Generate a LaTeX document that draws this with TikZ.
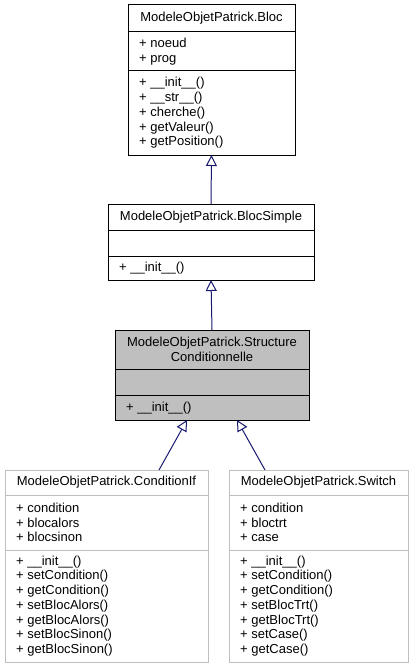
\documentclass[tikz,border=0pt]{standalone}
\usepackage{fontspec}
\setmainfont{Liberation Sans}
\usetikzlibrary{arrows.meta,calc}
\definecolor{edgeblue}{RGB}{25,25,112}
\definecolor{boxgrey}{RGB}{191,191,191}
\definecolor{lightedge}{RGB}{191,191,191}
\begin{document}
\begin{tikzpicture}[x=1pt,y=-1pt,
  classbox/.style={draw=black, line width=1pt, inner sep=0pt, outer sep=0pt, anchor=north west},
  lightbox/.style={classbox, draw=lightedge},
  txt/.style={inner sep=0pt, anchor=west, align=left, font=\fontsize{13}{14.7}\selectfont},
  ttl/.style={inner sep=0pt, align=center, font=\fontsize{13}{14.7}\selectfont},
  sep/.style={line width=1pt},
  inh/.style={draw=edgeblue, line width=1pt, -{Triangle[length=11pt, width=11pt, fill=white]}}
]
\useasboundingbox (0,0) rectangle (413,669);
\fill[white] (0,0) rectangle (413,669);

% Bloc
\node[classbox, minimum width=167pt, minimum height=150pt] (bloc) at (128,5) {};
\draw[sep] ($(bloc.north west)+(0,27)$) -- ($(bloc.north east)+(0,27)$);
\draw[sep] ($(bloc.north west)+(0,66)$) -- ($(bloc.north east)+(0,66)$);
\node[ttl] (blocT) at (211.5,18.5) {ModeleObjetPatrick.Bloc};
\node[txt] (blocA) at (139,51.5) {+ noeud\\+ prog};
\node[txt] (blocM) at (139,113) {+ \_\_init\_\_()\\+ \_\_str\_\_()\\+ cherche()\\+ getValeur()\\+ getPosition()};

% BlocSimple
\node[classbox, minimum width=206pt, minimum height=76pt] (bs) at (108,204) {};
\draw[sep] ($(bs.north west)+(0,26)$) -- ($(bs.north east)+(0,26)$);
\draw[sep] ($(bs.north west)+(0,52)$) -- ($(bs.north east)+(0,52)$);
\node[ttl] (bsT) at (211,217) {ModeleObjetPatrick.BlocSimple};
\node[txt] (bsM) at (119,268) {+ \_\_init\_\_()};

% StructureConditionnelle
\node[classbox, fill=boxgrey, minimum width=194pt, minimum height=90pt] (sc) at (115,330) {};
\draw[sep] ($(sc.north west)+(0,39)$) -- ($(sc.north east)+(0,39)$);
\draw[sep] ($(sc.north west)+(0,65)$) -- ($(sc.north east)+(0,65)$);
\node[ttl] (scT) at (212,349.5) {ModeleObjetPatrick.Structure\\Conditionnelle};
\node[txt] (scM) at (126,408) {+ \_\_init\_\_()};

% ConditionIf
\node[lightbox, minimum width=203pt, minimum height=192pt] (cif) at (5,470) {};
\draw[sep, lightedge] ($(cif.north west)+(0,25)$) -- ($(cif.north east)+(0,25)$);
\draw[sep, lightedge] ($(cif.north west)+(0,80)$) -- ($(cif.north east)+(0,80)$);
\node[ttl] (cifT) at (106.5,482.5) {ModeleObjetPatrick.ConditionIf};
\node[txt] (cifA) at (16,522.5) {+ condition\\+ blocalors\\+ blocsinon};
\node[txt] (cifM) at (16,606) {+ \_\_init\_\_()\\+ setCondition()\\+ getCondition()\\+ setBlocAlors()\\+ getBlocAlors()\\+ setBlocSinon()\\+ getBlocSinon()};

% Switch
\node[lightbox, minimum width=179pt, minimum height=192pt] (sw) at (229,470) {};
\draw[sep, lightedge] ($(sw.north west)+(0,25)$) -- ($(sw.north east)+(0,25)$);
\draw[sep, lightedge] ($(sw.north west)+(0,80)$) -- ($(sw.north east)+(0,80)$);
\node[ttl] (swT) at (318.5,482.5) {ModeleObjetPatrick.Switch};
\node[txt] (swA) at (240,522.5) {+ condition\\+ bloctrt\\+ case};
\node[txt] (swM) at (240,606) {+ \_\_init\_\_()\\+ setCondition()\\+ getCondition()\\+ setBlocTrt()\\+ getBlocTrt()\\+ setCase()\\+ getCase()};

% inheritance
\draw[inh] (bs.north) -- (bloc.south);
\draw[inh] (sc.north) -- (bs.south);
\draw[inh] ($(cif.north west)+(154,0)$) -- ($(sc.south west)+(72,0)$);
\draw[inh] ($(sw.north west)+(36,0)$) -- ($(sc.south west)+(122,0)$);
\end{tikzpicture}
\end{document}
